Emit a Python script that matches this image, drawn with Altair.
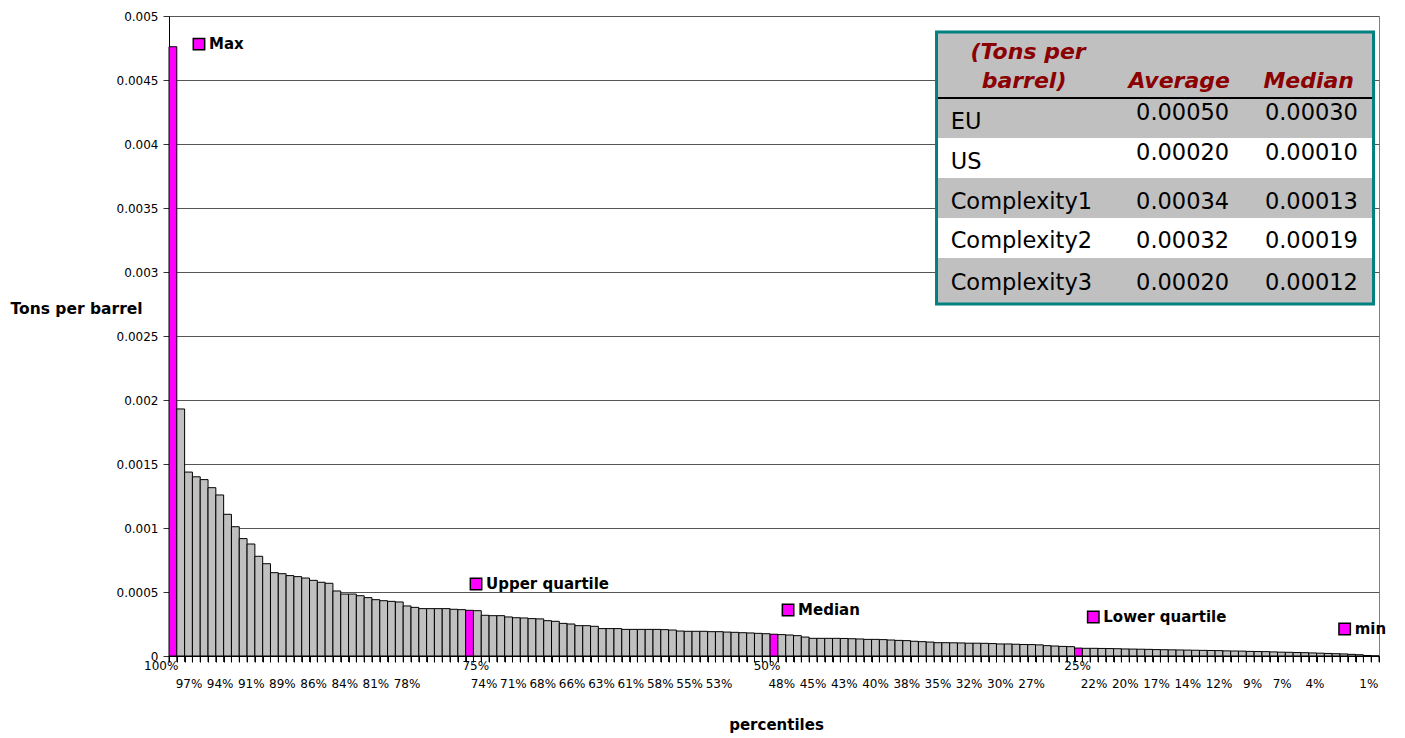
import altair as alt
import pandas as pd

# ---------------- data ----------------
tons_per_barrel = [
    0.00476, 0.00193, 0.001437, 0.0014, 0.001378, 0.001315, 0.001258, 0.001107, 0.00101, 0.000917,
    0.000875, 0.000779, 0.000721, 0.000651, 0.000643, 0.000628, 0.00062, 0.000609, 0.000591, 0.000576,
    0.000568, 0.000508, 0.000484, 0.000484, 0.000471, 0.000456, 0.00044, 0.000432, 0.000427, 0.000422,
    0.000391, 0.00038, 0.00037, 0.00037, 0.00037, 0.00037, 0.000365, 0.000362, 0.000357, 0.000354,
    0.000318, 0.000315, 0.000315, 0.000305, 0.000299, 0.000297, 0.000292, 0.00029, 0.000276, 0.000271,
    0.000255, 0.00025, 0.000237, 0.000237, 0.000232, 0.000214, 0.000214, 0.000214, 0.000208, 0.000208,
    0.000208, 0.000208, 0.000208, 0.000206, 0.000203, 0.000195, 0.000193, 0.000193, 0.000193, 0.00019,
    0.00019, 0.000187, 0.000185, 0.000182, 0.00018, 0.000177, 0.000174, 0.00017, 0.000167, 0.000164,
    0.000159, 0.000148, 0.000138, 0.000138, 0.000138, 0.000138, 0.000137, 0.000135, 0.000133, 0.00013,
    0.00013, 0.000128, 0.000125, 0.000122, 0.00012, 0.000115, 0.000112, 0.000109, 0.000104, 0.000104,
    0.000103, 0.000102, 0.0001, 0.0001, 0.000099, 0.000097, 0.000094, 0.000094, 0.000092, 0.00009,
    0.000089, 0.000087, 0.000081, 0.000078, 0.000075, 0.000073, 0.000062, 0.00006, 0.00006, 0.000059,
    0.000058, 0.000057, 0.000055, 0.000054, 0.000053, 0.000052, 0.00005, 0.000049, 0.000048, 0.000047,
    0.000046, 0.000045, 0.000044, 0.000043, 0.000042, 0.00004, 0.000039, 0.000038, 0.000036, 0.000035,
    0.000034, 0.000032, 0.00003, 0.000029, 0.000027, 0.000026, 0.000024, 0.000022, 0.00002, 0.000018,
    0.000016, 0.000013, 0.00001, 0.000004, 0.000001,
]
highlight_index = [0, 38, 77, 116, 154]

marker_names = ["Max", "Upper quartile", "Median", "Lower quartile", "min"]
marker_x = [3.84, 39.33, 79.3, 118.4, 150.6]
marker_y = [0.00478, 0.000563, 0.000359, 0.000305, 0.000211]

quartile_labels = ["100%", "75%", "50%", "25%"]
quartile_label_x = [-1.0, 39.3, 76.6, 116.4]

pct_labels = ["97%", "94%", "91%", "89%", "86%", "84%", "81%", "78%",
              "74%", "71%", "68%", "66%", "63%", "61%", "58%", "55%", "53%",
              "48%", "45%", "43%", "40%", "38%", "35%", "32%", "30%", "27%",
              "22%", "20%", "17%", "14%", "12%", "9%", "7%", "4%", "1%"]
pct_label_x = [2.56, 6.55, 10.54, 14.53, 18.52, 22.51, 26.5, 30.49,
               40.35, 44.12, 47.88, 51.64, 55.4, 59.17, 62.93, 66.69, 70.45,
               78.5, 82.5, 86.5, 90.5, 94.5, 98.5, 102.5, 106.5, 110.5,
               118.5, 122.5, 126.5, 130.5, 134.5, 138.8, 142.6, 146.8, 153.7]

y_ticks = [0, 0.0005, 0.001, 0.0015, 0.002, 0.0025, 0.003, 0.0035, 0.004, 0.0045, 0.005]

table_regions = ["EU", "US", "Complexity1", "Complexity2", "Complexity3"]
table_average = [0.00050, 0.00020, 0.00034, 0.00032, 0.00020]
table_median = [0.00030, 0.00010, 0.00013, 0.00019, 0.00012]

# table layout (in chart data units)
table_left, table_right = 98.32, 154.3
band_edges = [0.004875, 0.004359, 0.004047, 0.003734, 0.003422, 0.003109, 0.00275]
band_fill = ["#C0C0C0", "#C0C0C0", "#FFFFFF", "#C0C0C0", "#FFFFFF", "#C0C0C0"]
row_label_y = [0.004174, 0.003862, 0.003549, 0.003242, 0.002912]
row_value_y = [0.00424, 0.003927, 0.003549, 0.003242, 0.002912]
col_name_x, col_avg_x, col_med_x = 100.13, 135.8, 152.3
tick_depth = -0.000047  # category tick marks hang ~6px below the baseline

FONT = "DejaVu Sans"
N = len(tons_per_barrel)

xs = alt.Scale(domain=[0, N], nice=False, zero=False)
ys = alt.Scale(domain=[0, 0.005], nice=False)

bars_df = pd.DataFrame({
    "i": list(range(N)),
    "i1": [i + 1 for i in range(N)],
    "v": tons_per_barrel,
    "kind": ["special" if i in highlight_index else "normal" for i in range(N)],
})

bars = alt.Chart(bars_df).mark_bar(stroke="black", strokeWidth=1, opacity=1).encode(
    x=alt.X("i:Q", scale=xs, axis=alt.Axis(
        values=list(range(N + 1)), tickCount=N + 1, labels=False, ticks=True,
        tickSize=6, tickColor="black", tickWidth=1,
        domainColor="black", grid=False, title="percentiles",
        titleFont=FONT, titleFontSize=15, titleFontWeight="bold", titleColor="black",
        titleX=607, titleY=68, titleBaseline="middle", titleAlign="center")),
    x2="i1:Q",
    y=alt.Y("v:Q", scale=ys, axis=alt.Axis(
        values=y_ticks, format="~g", tickSize=6, tickColor="#333", labelPadding=5,
        labelFont=FONT, labelFontSize=12, labelColor="black",
        domainColor="black", grid=True, gridColor="#555", gridWidth=1,
        title="Tons per barrel", titleAngle=0, titleAlign="left", titleBaseline="middle",
        titleX=-159, titleY=292, titleFont=FONT, titleFontSize=15.5,
        titleFontWeight="bold", titleColor="black")),
    y2=alt.Y2Datum(0),
    color=alt.Color("kind:N", scale=alt.Scale(domain=["normal", "special"],
                                              range=["#C0C0C0", "#FF00FF"]), legend=None),
)

# category tick marks below the baseline (one per category boundary)
tick_df = pd.DataFrame({"i": list(range(N + 1)), "lo": [tick_depth] * (N + 1),
                        "hi": [0.0] * (N + 1)})
ticks = alt.Chart(tick_df).mark_rule(color="black", strokeWidth=1, opacity=1).encode(
    x=alt.X("i:Q", scale=xs), y=alt.Y("hi:Q", scale=ys), y2="lo:Q")

q_df = pd.DataFrame({"x": quartile_label_x, "t": quartile_labels})
q_text = alt.Chart(q_df).mark_text(font=FONT, fontSize=12, align="center",
                                   baseline="middle", dy=10, color="black").encode(
    x=alt.X("x:Q", scale=xs), y=alt.YDatum(0, scale=ys), text="t:N")

p_df = pd.DataFrame({"x": pct_label_x, "t": pct_labels})
p_text = alt.Chart(p_df).mark_text(font=FONT, fontSize=12, align="center",
                                   baseline="middle", dy=28, color="black").encode(
    x=alt.X("x:Q", scale=xs), y=alt.YDatum(0, scale=ys), text="t:N")

m_df = pd.DataFrame({"x": marker_x, "y": marker_y, "t": marker_names})
m_sq = alt.Chart(m_df).mark_square(size=130, fill="#FF00FF", stroke="black",
                                   strokeWidth=1.5, opacity=1, filled=True).encode(
    x=alt.X("x:Q", scale=xs), y=alt.Y("y:Q", scale=ys))
m_tx = alt.Chart(m_df).mark_text(font=FONT, fontSize=15, fontWeight="bold", align="left",
                                 baseline="middle", dx=10, color="black").encode(
    x=alt.X("x:Q", scale=xs), y=alt.Y("y:Q", scale=ys), text="t:N")

# table
band_df = pd.DataFrame({
    "x0": [table_left] * 6, "x1": [table_right] * 6,
    "y0": band_edges[:-1], "y1": band_edges[1:], "fill": band_fill,
})
bands = alt.Chart(band_df).mark_rect(strokeWidth=0).encode(
    x=alt.X("x0:Q", scale=xs), x2="x1:Q",
    y=alt.Y("y0:Q", scale=ys), y2="y1:Q",
    fill=alt.Fill("fill:N", scale=None))

frame_df = pd.DataFrame({"x0": [table_left], "x1": [table_right],
                         "y0": [band_edges[0]], "y1": [band_edges[-1]]})
frame = alt.Chart(frame_df).mark_rect(filled=False, stroke="#008080", strokeWidth=3).encode(
    x=alt.X("x0:Q", scale=xs), x2="x1:Q",
    y=alt.Y("y0:Q", scale=ys), y2="y1:Q")

hline_df = pd.DataFrame({"x0": [table_left], "x1": [table_right], "y": [band_edges[1]]})
hline = alt.Chart(hline_df).mark_rule(color="black", strokeWidth=2).encode(
    x=alt.X("x0:Q", scale=xs), x2="x1:Q", y=alt.Y("y:Q", scale=ys))

hdr_df = pd.DataFrame({
    "x": [110.04, 109.53, 135.91, 151.8],
    "y": [0.004721, 0.004496, 0.004496, 0.004496],
    "t": ["(Tons per", "barrel)", "Average", "Median"],
    "a": ["center", "center", "right", "right"],
})
hdr_c = alt.Chart(hdr_df[hdr_df.a == "center"]).mark_text(
    font=FONT, fontSize=22, fontWeight="bold", fontStyle="italic", color="#8B0000",
    align="center", baseline="middle").encode(
    x=alt.X("x:Q", scale=xs), y=alt.Y("y:Q", scale=ys), text="t:N")
hdr_r = alt.Chart(hdr_df[hdr_df.a == "right"]).mark_text(
    font=FONT, fontSize=22, fontWeight="bold", fontStyle="italic", color="#8B0000",
    align="right", baseline="middle").encode(
    x=alt.X("x:Q", scale=xs), y=alt.Y("y:Q", scale=ys), text="t:N")

tbl_df = pd.DataFrame({
    "name": table_regions, "avg": table_average, "med": table_median,
    "ly": row_label_y, "vy": row_value_y,
    "nx": [col_name_x] * 5, "ax": [col_avg_x] * 5, "mx": [col_med_x] * 5,
})
names = alt.Chart(tbl_df).mark_text(font=FONT, fontSize=22.5, color="black",
                                    align="left", baseline="middle").encode(
    x=alt.X("nx:Q", scale=xs), y=alt.Y("ly:Q", scale=ys), text="name:N")
avgs = alt.Chart(tbl_df).mark_text(font=FONT, fontSize=22.5, color="black",
                                   align="right", baseline="middle").encode(
    x=alt.X("ax:Q", scale=xs), y=alt.Y("vy:Q", scale=ys),
    text=alt.Text("avg:Q", format=".5f"))
meds = alt.Chart(tbl_df).mark_text(font=FONT, fontSize=22.5, color="black",
                                   align="right", baseline="middle").encode(
    x=alt.X("mx:Q", scale=xs), y=alt.Y("vy:Q", scale=ys),
    text=alt.Text("med:Q", format=".5f"))

chart = alt.layer(
    bars, ticks, q_text, p_text, m_sq, m_tx, bands, hline, hdr_c, hdr_r, names, avgs, meds, frame
).properties(
    width=1210, height=640,
    padding={"left": 161, "top": 8, "right": 10, "bottom": 78},
    autosize=alt.AutoSizeParams(type="none"),
).configure(font=FONT).configure_view(stroke="#808080", strokeWidth=1)

chart.save("out.html", embed_options={"renderer": "svg", "actions": False})
